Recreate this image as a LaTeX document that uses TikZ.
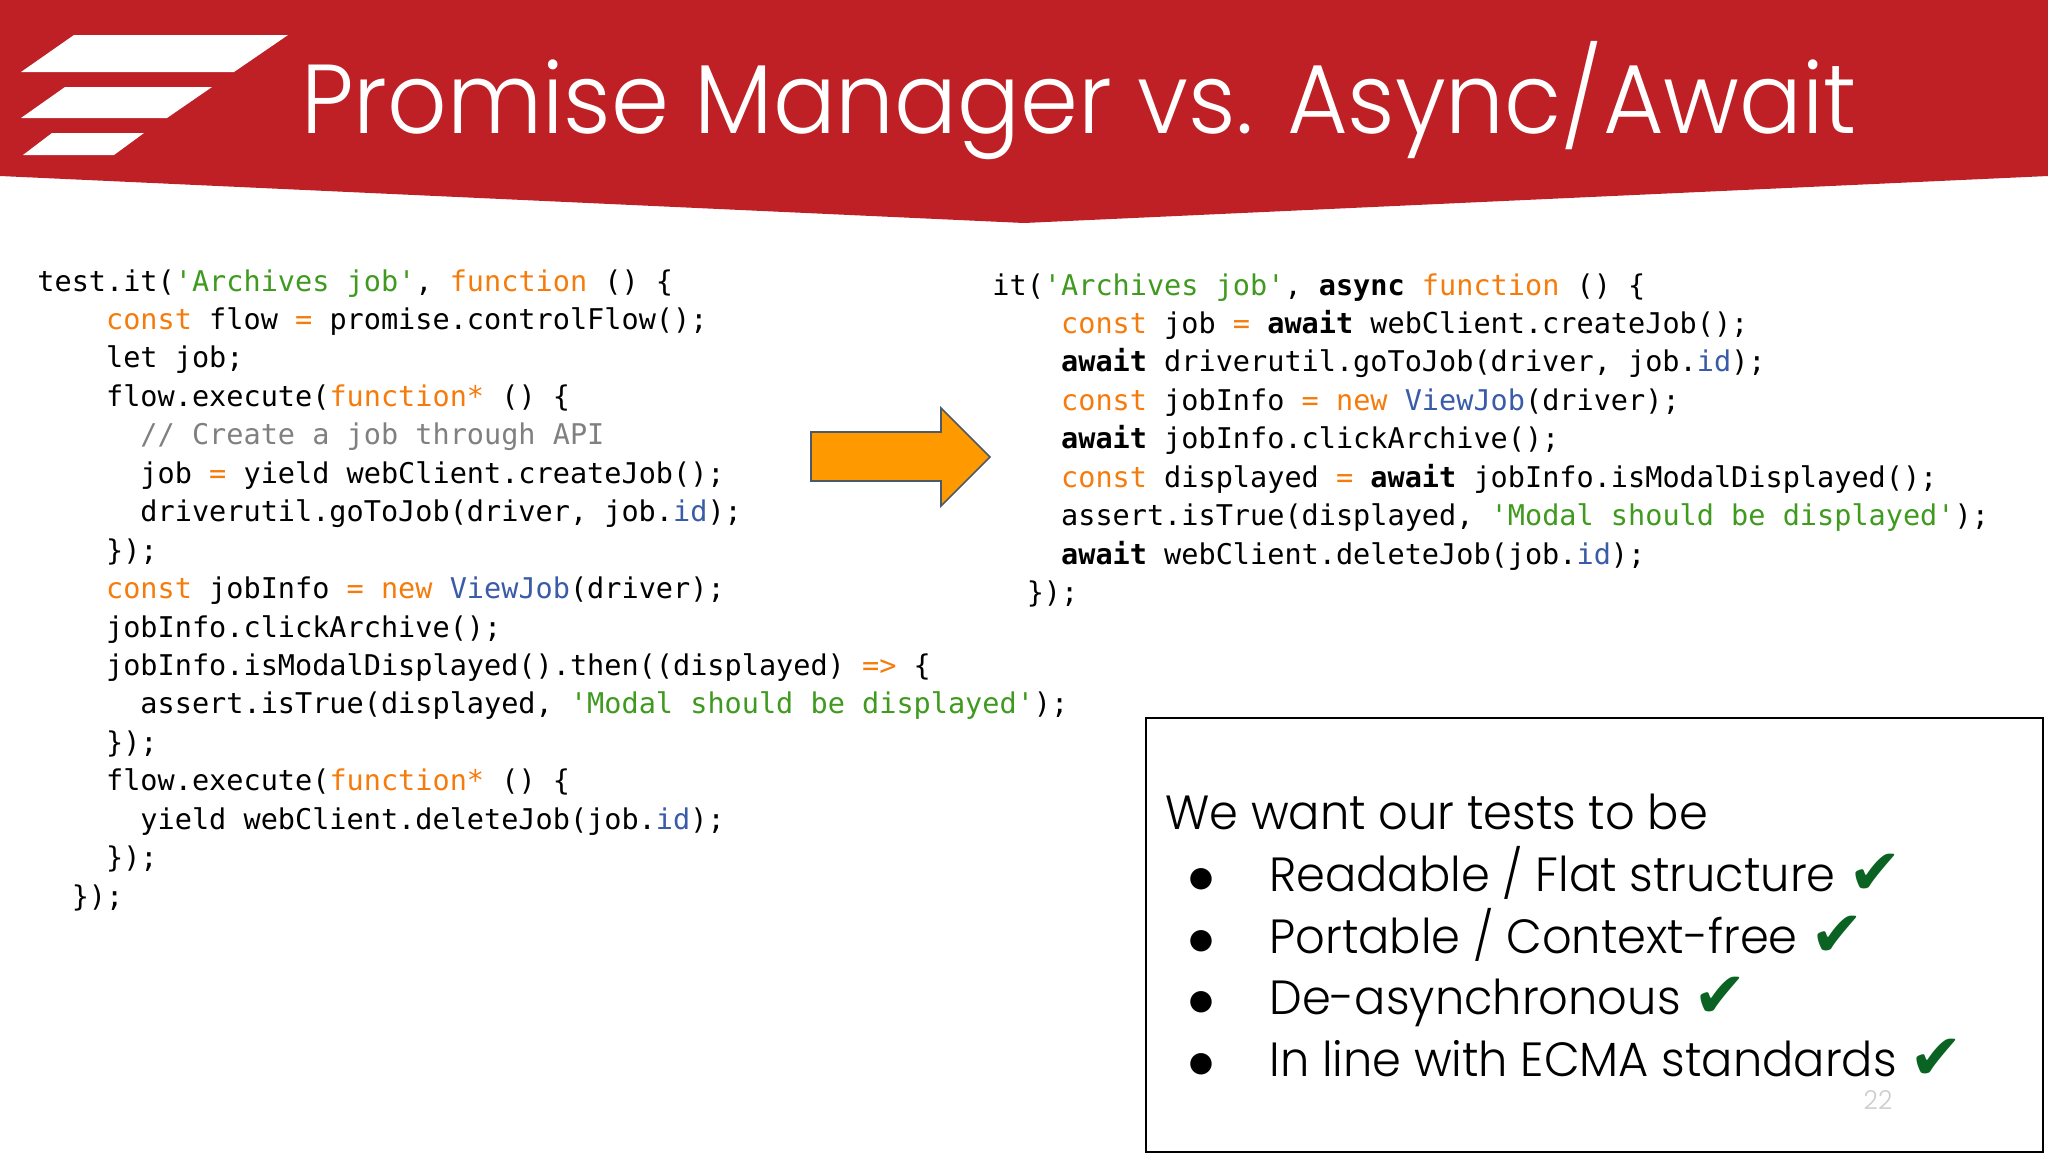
\documentclass[tikz,border=0pt]{standalone}
\usepackage{fontspec}
\setmainfont{Poppins}[UprightFont=* Light,FakeStretch=0.965]
\newfontfamily\titlefont{Poppins}[UprightFont=* Light,FakeStretch=0.95]
\newfontfamily\codefont{DejaVu Sans Mono}
\newfontfamily\symbolfont{DejaVu Sans}
\usetikzlibrary{positioning}

\definecolor{headerred}{HTML}{BE2026}
\definecolor{arroworange}{HTML}{FF9900}
\definecolor{arrowedge}{HTML}{4A5A68}
\definecolor{kwcolor}{HTML}{F57C0C}
\definecolor{strcolor}{HTML}{3F9A1F}
\definecolor{idcolor}{HTML}{3A5BA8}
\definecolor{cmcolor}{HTML}{808080}
\definecolor{checkgreen}{HTML}{0B6323}

\newcommand{\codekw}[1]{\textcolor{kwcolor}{#1}}
\newcommand{\codestr}[1]{\textcolor{strcolor}{#1}}
\newcommand{\codeid}[1]{\textcolor{idcolor}{#1}}
\newcommand{\codecm}[1]{\textcolor{cmcolor}{#1}}
\newcommand{\codeind}[1]{\hspace*{#1\fontcharwd\font`0}}
\newcommand{\okmark}{{\symbolfont\fontsize{32}{34}\selectfont\raisebox{-1.5pt}{\textcolor{checkgreen}{✔}}}}

\begin{document}
\begin{tikzpicture}[x=0.5pt,y=-0.5pt,
    codeblock/.style={anchor=north west,inner sep=0pt,align=left,
      font=\codefont\fontsize{14.27}{19.22}\selectfont},
    listtext/.style={anchor=base west,inner sep=0pt,
      font=\fontsize{24}{28}\selectfont},
    listdot/.style={anchor=center,inner sep=0pt,
      font=\symbolfont\fontsize{14}{16}\selectfont}]
        \useasboundingbox (0,0) rectangle (2048,1152);

        % Red header band
        \fill[headerred] (0,0) -- (2048,0) -- (2048,176) -- (1024,223) -- (0,176) -- cycle;

        % Logo stripes
        \fill[white] (74,35) -- (288,35) -- (234,72) -- (21,72) -- cycle;
        \fill[white] (65,87) -- (212,87) -- (167,118) -- (21,118) -- cycle;
        \fill[white] (52,133) -- (144,133) -- (114,155) -- (23,155) -- cycle;

        % Title
        \node[anchor=base west,inner sep=0pt,text=white,font=\titlefont\fontsize{49}{58}\selectfont] (title) at (301,133) {Promise Manager vs. Async/Await};

        % Left code
        \node[codeblock] (oldcode) at (37,269) {%
test.it(\codestr{'Archives job'}, \codekw{function} () \{\\
\codeind{4}\codekw{const} flow \codekw{=} promise.controlFlow();\\
\codeind{4}let job;\\
\codeind{4}flow.execute(\codekw{function*} () \{\\
\codeind{6}\codecm{// Create a job through API}\\
\codeind{6}job \codekw{=} yield webClient.createJob();\\
\codeind{6}driverutil.goToJob(driver, job.\codeid{id});\\
\codeind{4}\});\\
\codeind{4}\codekw{const} jobInfo \codekw{=} \codekw{new} \codeid{ViewJob}(driver);\\
\codeind{4}jobInfo.clickArchive();\\
\codeind{4}jobInfo.isModalDisplayed().then((displayed) \codekw{=>} \{\\
\codeind{6}assert.isTrue(displayed, \codestr{'Modal should be displayed'});\\
\codeind{4}\});\\
\codeind{4}flow.execute(\codekw{function*} () \{\\
\codeind{6}yield webClient.deleteJob(job.\codeid{id});\\
\codeind{4}\});\\
\codeind{2}\});};

        % Right code
        \node[codeblock] (newcode) at (992,273) {%
it(\codestr{'Archives job'}, \textbf{async} \codekw{function} () \{\\
\codeind{4}\codekw{const} job \codekw{=} \textbf{await} webClient.createJob();\\
\codeind{4}\textbf{await} driverutil.goToJob(driver, job.\codeid{id});\\
\codeind{4}\codekw{const} jobInfo \codekw{=} \codekw{new} \codeid{ViewJob}(driver);\\
\codeind{4}\textbf{await} jobInfo.clickArchive();\\
\codeind{4}\codekw{const} displayed \codekw{=} \textbf{await} jobInfo.isModalDisplayed();\\
\codeind{4}assert.isTrue(displayed, \codestr{'Modal should be displayed'});\\
\codeind{4}\textbf{await} webClient.deleteJob(job.\codeid{id});\\
\codeind{2}\});};

        % Orange arrow
        \draw[fill=arroworange,draw=arrowedge,line width=0.8pt,line join=miter] (811,432) -- (941,432) -- (941,408) -- (990,457) -- (941,506) -- (941,481) -- (811,481) -- cycle;

        % Box with the list
        \draw[line width=0.9pt] (1146,718) rectangle (2043,1152);
        \node[listtext] (wanthead) at (1165,829) {We want our tests to be};
        \node[listtext] (itema) at (1269,891) {Readable / Flat structure \okmark};
        \node[listtext] (itemb) at (1269,953) {Portable / Context-free \okmark};
        \node[listtext] (itemc) at (1269,1014) {De-asynchronous \okmark};
        \node[listtext] (itemd) at (1269,1076) {In line with ECMA standards \okmark};

        % Bullets
        \foreach \dotname/\doty in {dota/879,dotb/941,dotc/1002,dotd/1064}
            \node[listdot] (\dotname) at (1201,\doty) {●};

        % Page number
        \node[anchor=center,inner sep=0pt,text=black!20,font=\fontsize{13}{15}\selectfont] (pagenum) at (1878,1100) {22};
\end{tikzpicture}
\end{document}
